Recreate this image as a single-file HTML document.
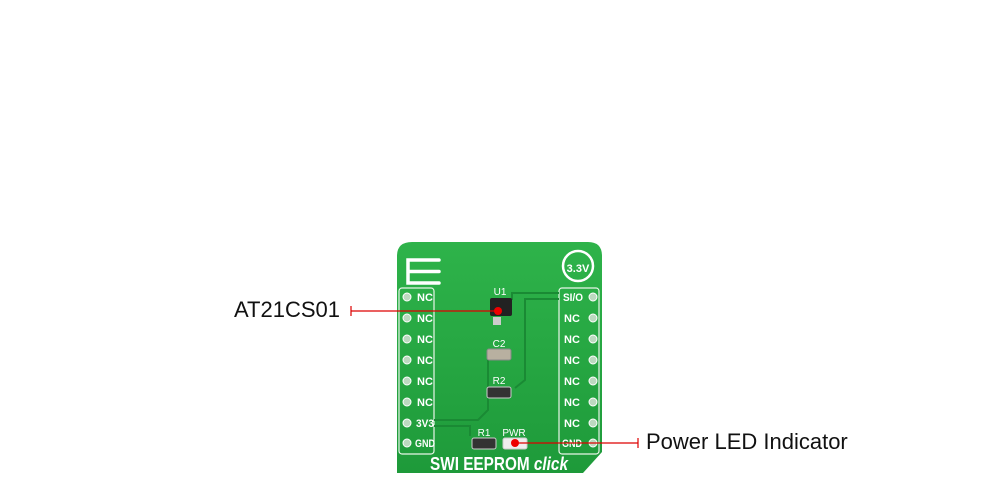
<!DOCTYPE html>
<html><head><meta charset="utf-8"><style>
body{margin:0;width:1000px;height:500px;background:#fff;position:relative;overflow:hidden;font-family:"Liberation Sans",sans-serif}
.lbl{position:absolute;font-size:22px;color:#111}
</style></head><body>
<svg width="1000" height="500" style="position:absolute;left:0;top:0">
<defs><linearGradient id="g" x1="0" y1="0" x2="0" y2="1"><stop offset="0" stop-color="#2eb34a"/><stop offset="1" stop-color="#1e9a3a"/></linearGradient></defs>
<path d="M412 242 H588 Q602 242 602 256 V452 L583 473 H397 V256 Q397 242 412 242Z" fill="url(#g)"/>
<g fill="none" stroke="#fff" stroke-width="3.5" stroke-linecap="round"><path d="M439 260 H408 V283 H439 M408 271.5 H439"/></g>
<circle cx="578" cy="266" r="15" fill="none" stroke="#fff" stroke-width="2.5"/>
<text x="578" y="272" font-size="11" font-weight="bold" fill="#fff" text-anchor="middle" font-family="Liberation Sans">3.3V</text>
<rect x="399" y="288" width="35" height="166" rx="3" fill="none" stroke="#e8f5e8" stroke-width="1.2"/>
<rect x="559" y="288" width="40" height="166" rx="3" fill="none" stroke="#e8f5e8" stroke-width="1.2"/>
<g fill="#bcd9c0" stroke="#fff" stroke-width="1">
<circle cx="407" cy="297" r="4"/><circle cx="407" cy="318" r="4"/><circle cx="407" cy="339" r="4"/><circle cx="407" cy="360" r="4"/><circle cx="407" cy="381" r="4"/><circle cx="407" cy="402" r="4"/><circle cx="407" cy="423" r="4"/><circle cx="407" cy="443" r="4"/>
<circle cx="593" cy="297" r="4"/><circle cx="593" cy="318" r="4"/><circle cx="593" cy="339" r="4"/><circle cx="593" cy="360" r="4"/><circle cx="593" cy="381" r="4"/><circle cx="593" cy="402" r="4"/><circle cx="593" cy="423" r="4"/><circle cx="593" cy="443" r="4"/>
</g>
<g font-size="11" font-weight="bold" fill="#fff" font-family="Liberation Sans" text-anchor="middle">
<text x="425" y="301">NC</text><text x="425" y="322">NC</text><text x="425" y="343">NC</text><text x="425" y="364">NC</text><text x="425" y="385">NC</text><text x="425" y="406">NC</text><text x="425" y="427" textLength="18" lengthAdjust="spacingAndGlyphs">3V3</text><text x="425" y="447" textLength="20" lengthAdjust="spacingAndGlyphs">GND</text>
<text x="573" y="301" textLength="20" lengthAdjust="spacingAndGlyphs">SI/O</text><text x="572" y="322">NC</text><text x="572" y="343">NC</text><text x="572" y="364">NC</text><text x="572" y="385">NC</text><text x="572" y="406">NC</text><text x="572" y="427">NC</text><text x="572" y="447" textLength="20" lengthAdjust="spacingAndGlyphs">GND</text>
</g>
<g fill="none" stroke="#1a8a34" stroke-width="2">
<path d="M559 293 H512 V300"/><path d="M559 299 H525 V380 L515 388"/><path d="M434 420 H478 L488 410 V350"/><path d="M434 426 H470 V436"/>
</g>
<rect x="490" y="298" width="22" height="18" rx="2" fill="#222"/>
<rect x="493" y="317" width="8" height="8" fill="#ccc"/>
<text x="500" y="295" font-size="10" fill="#fff" text-anchor="middle">U1</text>
<text x="499" y="347" font-size="10" fill="#fff" text-anchor="middle">C2</text>
<rect x="487" y="349" width="24" height="11" rx="2" fill="#b8b0a0" stroke="#888"/>
<text x="499" y="384" font-size="10" fill="#fff" text-anchor="middle">R2</text>
<rect x="487" y="387" width="24" height="11" rx="2" fill="#333" stroke="#ccc"/>
<text x="484" y="436" font-size="10" fill="#fff" text-anchor="middle">R1</text>
<rect x="472" y="438" width="24" height="11" rx="2" fill="#333" stroke="#ccc"/>
<text x="514" y="436" font-size="10" fill="#fff" text-anchor="middle">PWR</text>
<rect x="503" y="438" width="24" height="11" rx="2" fill="#eee" stroke="#ccc"/>
<text x="499" y="470" font-size="18" font-weight="bold" fill="#fff" text-anchor="middle" font-family="Liberation Sans" textLength="138" lengthAdjust="spacingAndGlyphs">SWI EEPROM <tspan font-style="italic">click</tspan></text>
<line x1="351" y1="311" x2="498" y2="311" stroke="#d00" stroke-width="1.2"/>
<line x1="351" y1="306" x2="351" y2="316" stroke="#d00" stroke-width="1.2"/>
<circle cx="498" cy="311" r="4" fill="#e00"/>
<line x1="515" y1="443" x2="638" y2="443" stroke="#d00" stroke-width="1.2"/>
<line x1="638" y1="438" x2="638" y2="448" stroke="#d00" stroke-width="1.2"/>
<circle cx="515" cy="443" r="4" fill="#e00"/>
</svg>
<div class="lbl" style="left:234px;top:297px">AT21CS01</div>
<div class="lbl" style="left:646px;top:429px">Power LED Indicator</div>
</body></html>
